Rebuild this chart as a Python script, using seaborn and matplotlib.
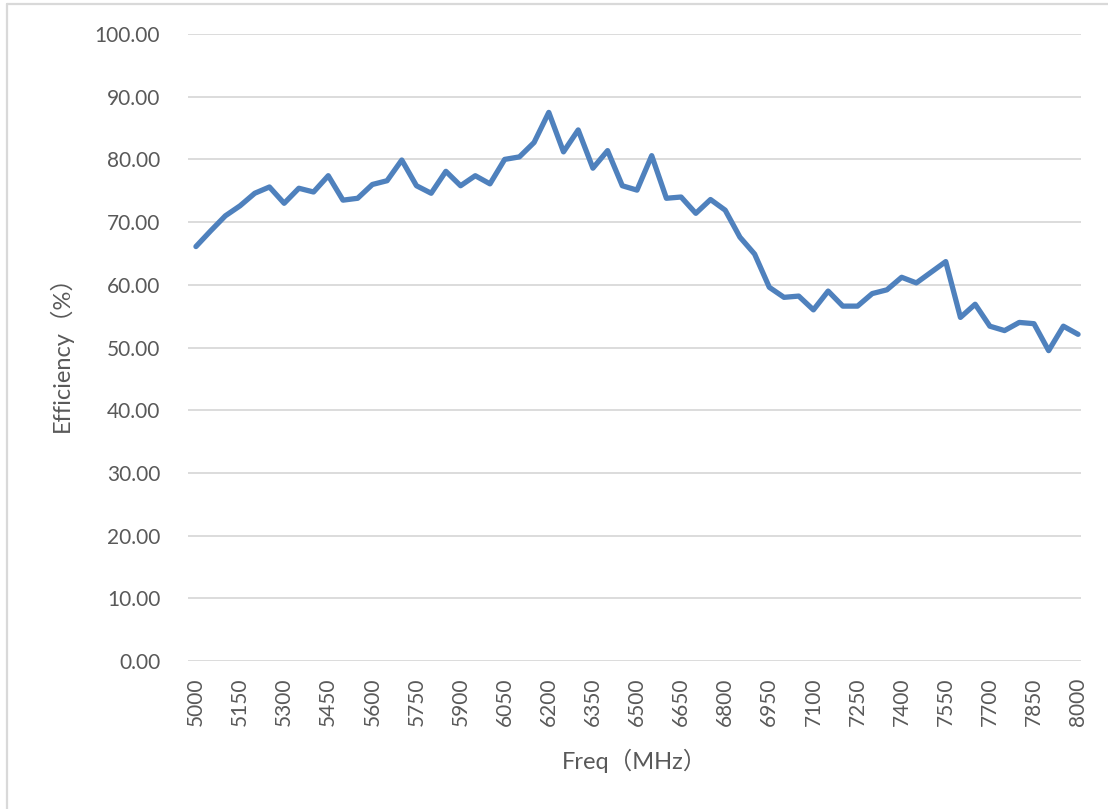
import numpy as np
import pandas as pd
import matplotlib
matplotlib.use("Agg")
import matplotlib.pyplot as plt
import seaborn as sns
from matplotlib.lines import Line2D

# data
freq = list(range(5000, 8001, 50))
efficiency = [
    66.1, 68.6, 71.0, 72.6, 74.6, 75.6, 73.0, 75.4, 74.8, 77.4,
    73.5, 73.8, 76.0, 76.6, 79.9, 75.8, 74.6, 78.1, 75.8, 77.4,
    76.1, 80.0, 80.4, 82.7, 87.5, 81.2, 84.7, 78.6, 81.4, 75.8,
    75.1, 80.6, 73.8, 74.0, 71.4, 73.6, 71.9, 67.6, 64.9, 59.6,
    58.0, 58.2, 56.0, 59.0, 56.6, 56.6, 58.6, 59.2, 61.2, 60.3,
    62.0, 63.7, 54.8, 56.9, 53.4, 52.7, 54.0, 53.8, 49.5, 53.4,
    52.1,
]
x_ticks = list(range(5000, 8001, 150))
y_ticks = list(range(0, 101, 10))

sns.set_style("white")
plt.rcParams['font.family'] = ['Lato', 'Noto Sans CJK SC', 'DejaVu Sans']

df = pd.DataFrame({'Freq': freq, 'Efficiency': efficiency})

fig = plt.figure(figsize=(11.08, 8.09), dpi=100)
ax = fig.add_axes([188 / 1108, 1 - 661 / 809, (1081 - 188) / 1108, (661 - 34) / 809])

sns.lineplot(data=df, x='Freq', y='Efficiency', ax=ax, color='#4f81bd', linewidth=3.8)

ax.set_xlim(4973, 8010)
ax.set_ylim(0, 100)
ax.set_xticks(x_ticks)
ax.set_xticklabels([str(t) for t in x_ticks], rotation=90)
ax.set_yticks(y_ticks)
ax.set_yticklabels([f'{t:.2f}' for t in y_ticks])
ax.tick_params(axis='y', length=0, pad=20, labelsize=15, labelcolor='#595959')
ax.tick_params(axis='x', length=0, pad=12, labelsize=15, labelcolor='#595959')

ax.yaxis.grid(True, color='#d9d9d9', linewidth=1.3)
ax.xaxis.grid(False)
for s in ax.spines.values():
    s.set_visible(False)
ax.set_axisbelow(True)

ax.set_xlabel('Freq（MHz）', fontsize=17, color='#595959', labelpad=16)
ax.set_ylabel('Efficiency（%）', fontsize=17, color='#595959', labelpad=16)

# chart area border (cropped)
fig.add_artist(Line2D([7 / 1108, 7 / 1108], [0, 1 - 4 / 809], transform=fig.transFigure,
                      color='#d9d9d9', linewidth=1.6))
fig.add_artist(Line2D([7 / 1108, 1], [1 - 4 / 809, 1 - 4 / 809], transform=fig.transFigure,
                      color='#d9d9d9', linewidth=1.6))

fig.savefig('out.png', dpi=100)
